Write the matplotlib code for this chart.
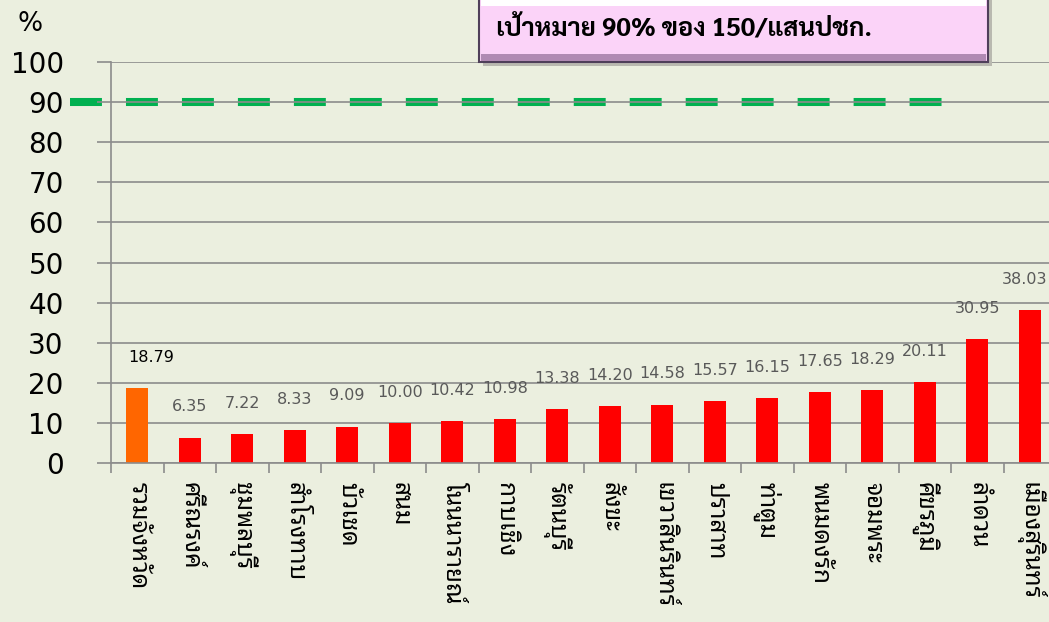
import numpy as np
import matplotlib
matplotlib.use("Agg")
import matplotlib.pyplot as plt
from matplotlib.patches import Rectangle

# data
districts = [
    "รวมจังหวัด", "ศรีณรงค์", "ชุมพลบุรี", "สำโรงทาบ", "บัวเชด", "สนม",
    "โนนนารายณ์", "กาบเชิง", "รัตนบุรี", "สังขะ", "เขวาสินรินทร์", "ปราสาท",
    "ท่าตูม", "พนมดงรัก", "จอมพระ", "ศีขรภูมิ", "ลำดวน", "เมืองสุรินทร์",
]
rates = [18.79, 6.35, 7.22, 8.33, 9.09, 10.00, 10.42, 10.98, 13.38, 14.20,
         14.58, 15.57, 16.15, 17.65, 18.29, 20.11, 30.95, 38.03]
target = 90
y_ticks = list(range(0, 101, 10))
title_text = "เป้าหมาย 90% ของ 150/แสนปชก."

thai = ["Noto Sans Thai Looped", "DejaVu Sans"]
plt.rcParams["font.family"] = ["DejaVu Sans", "Noto Sans Thai Looped"]
plt.rcParams["lines.scale_dashes"] = False

bg = "#EBEFDF"
grid_c = "#8C8C8C"
W, H = 1049, 622

fig = plt.figure(figsize=(W / 100, H / 100), dpi=100, facecolor=bg)
ax = fig.add_axes([111 / W, 1 - 463 / H, 945 / W, 401 / H])
ax.set_facecolor(bg)

x = np.arange(len(districts))
colors = ["#FF6600"] + ["#FF0000"] * (len(districts) - 1)
ax.bar(x, rates, width=0.41, color=colors, zorder=2)

for i, v in enumerate(rates):
    dx = 10 if i == 0 else (-4 if i == len(rates) - 1 else 0)
    ax.annotate(f"{v:.2f}", (i, v), xytext=(dx, 22), textcoords="offset points",
                ha="center", va="center", fontsize=11.5,
                color="black" if i == 0 else "#595959")

# target line
ax.plot([-1.28, len(districts) - 2.67], [target, target], color="#00B050",
        lw=5.8, dashes=(23, 17.3), solid_capstyle="butt",
        dash_capstyle="butt", clip_on=False, zorder=0.3)

ax.set_xlim(-0.5, len(districts) - 0.5)
ax.set_ylim(0, 100)
ax.set_yticks(y_ticks)
ax.tick_params(axis="y", length=10, width=1.2, color=grid_c, pad=24,
               labelsize=20)
ax.yaxis.grid(True, color=grid_c, lw=1.2)
ax.set_axisbelow(True)

ax.set_xticks(x)
ax.set_xticklabels(districts, rotation=270, fontsize=17.5, family=thai)
ax.set_xticks(np.arange(-0.5, len(districts)), minor=True)
ax.tick_params(axis="x", which="major", length=0, pad=14)
ax.tick_params(axis="x", which="minor", length=7, width=1.2, color=grid_c)

for s in ["top", "right"]:
    ax.spines[s].set_visible(False)
for s in ["left", "bottom"]:
    ax.spines[s].set_color(grid_c)
    ax.spines[s].set_linewidth(1.2)

fig.text(30 / W, 1 - 24 / H, "%", fontsize=19, ha="center", va="center")

# title box
bx0, bx1 = 479 / W, 988 / W
by0 = 1 - 62 / H
fig.patches.append(Rectangle((bx0 + 4 / W, by0 - 4 / H), bx1 - bx0, 1.1 - by0,
                             transform=fig.transFigure, facecolor="#B9B9B0",
                             edgecolor="none", zorder=5))
fig.patches.append(Rectangle((bx0, by0), bx1 - bx0, 1.1 - by0,
                             transform=fig.transFigure, facecolor="#FBD3F8",
                             edgecolor="#4F3F5A", lw=1.5, zorder=6))
fig.patches.append(Rectangle((bx0 + 2 / W, by0 + 1 / H), bx1 - bx0 - 4 / W, 7 / H,
                             transform=fig.transFigure, facecolor="#B08AB3",
                             edgecolor="none", zorder=7))
fig.patches.append(Rectangle((bx0 + 2 / W, 1 - 6 / H), bx1 - bx0 - 4 / W, 6 / H,
                             transform=fig.transFigure, facecolor="white",
                             edgecolor="none", zorder=7))
fig.text(496 / W, 1 - 29 / H, title_text, fontsize=18.5, fontweight="bold",
         family=["Sarabun", "DejaVu Sans"], ha="left", va="center", zorder=8)

fig.savefig("out.png", dpi=100, facecolor=bg)
